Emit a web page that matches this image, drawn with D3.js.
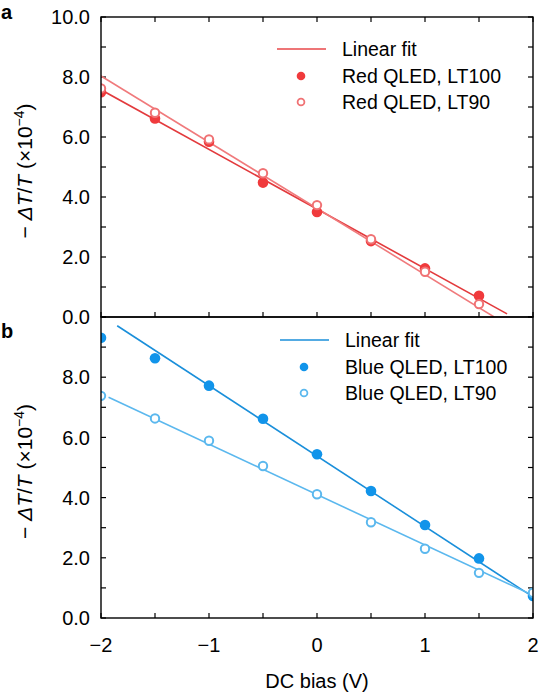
<!DOCTYPE html>
<html><head><meta charset="utf-8">
<script src="https://cdn.jsdelivr.net/npm/d3@7"></script>
<style>
html,body{margin:0;padding:0;background:#fff;}
svg{display:block;font-family:"Liberation Sans",Arial,Helvetica,sans-serif;}
</style></head>
<body>
<svg id="chart" width="540" height="694"></svg>
<script>
// ---- data ----
const biasRed   = [-2, -1.5, -1, -0.5, 0, 0.5, 1, 1.5];
const redLT100  = [7.49, 6.62, 5.84, 4.48, 3.50, 2.53, 1.62, 0.71];
const redLT90   = [7.62, 6.81, 5.92, 4.79, 3.73, 2.59, 1.51, 0.43];
const biasBlue  = [-2, -1.5, -1, -0.5, 0, 0.5, 1, 1.5, 2];
const blueLT100 = [9.31, 8.63, 7.72, 6.62, 5.44, 4.22, 3.09, 1.98, 0.73];
const blueLT90  = [7.38, 6.63, 5.89, 5.05, 4.11, 3.18, 2.30, 1.50, 0.84];
// linear fits: [slope, intercept, xStart, xEnd]
const redFit100  = [-1.987, 3.60, -2.1, 1.76];
const redFit90   = [-2.206, 3.62, -2.1, 1.64];
const blueFit100 = [-2.34, 5.38, -1.85, 2.0];
const blueFit90  = [-1.674, 4.10, -1.93, 2.0];
const xTickLabels = [-2, -1, 0, 1, 2];
const yTickLabels = [0, 2, 4, 6, 8, 10];
const legendRed  = ["Linear fit", "Red QLED, LT100", "Red QLED, LT90"];
const legendBlue = ["Linear fit", "Blue QLED, LT100", "Blue QLED, LT90"];

const svg = d3.select("#chart");
const L = 101, R = 533;
const x = d3.scaleLinear().domain([-2, 2]).range([L, R]);
const yA = d3.scaleLinear().domain([0, 10]).range([317, 17]);
const yB = d3.scaleLinear().domain([0, 10]).range([618, 317]);

const C = {
  red100: "#f03a3c", red90: "#f07274", redFit100: "#e33a3d", redFit90: "#f07a7c",
  blue100: "#1194ea", blue90: "#5bb8ee", blueFit100: "#1a8fda", blueFit90: "#5bb8ee"
};
const FS = 20, LFS = 19.5;
const fmt = d => (d < 0 ? "\u2212" + Math.abs(d) : String(d));

function panel(id, y, showTopTicks, showTopLabel, series, fits, legend, legendColors, legendY, legendX) {
  const g = svg.append("g");
  const [y0, y1] = y.range();
  const clipId = "clip" + id;
  svg.append("defs").append("clipPath").attr("id", clipId)
    .append("rect").attr("x", L).attr("y", y1).attr("width", R - L).attr("height", y0 - y1);

  const tk = 5;
  const xt = d3.range(-2, 2.01, 0.5);
  g.selectAll(".xb").data(xt).join("line")
    .attr("x1", d => x(d)).attr("x2", d => x(d)).attr("y1", y0).attr("y2", y0 - tk)
    .attr("stroke", "#000").attr("stroke-width", 1.2);
  if (showTopTicks) {
    g.selectAll(".xt").data(xt).join("line")
      .attr("x1", d => x(d)).attr("x2", d => x(d)).attr("y1", y1).attr("y2", y1 + tk)
      .attr("stroke", "#000").attr("stroke-width", 1.2);
  }
  const yt = d3.range(0, 10.01, 1);
  g.selectAll(".yl").data(yt).join("line")
    .attr("x1", L).attr("x2", L + tk).attr("y1", d => y(d)).attr("y2", d => y(d))
    .attr("stroke", "#000").attr("stroke-width", 1.2);
  g.selectAll(".yr").data(yt).join("line")
    .attr("x1", R).attr("x2", R - tk).attr("y1", d => y(d)).attr("y2", d => y(d))
    .attr("stroke", "#000").attr("stroke-width", 1.2);

  g.selectAll(".ylab").data(yTickLabels.filter(d => showTopLabel || d < 10)).join("text")
    .attr("x", L - 11).attr("y", d => y(d)).attr("dy", "0.36em")
    .attr("text-anchor", "end").attr("font-size", FS).text(d => d.toFixed(1));

  const pg = g.append("g").attr("clip-path", `url(#${clipId})`);
  fits.forEach(f => {
    const [m, b, xs, xe] = f.p;
    pg.append("line")
      .attr("x1", x(xs)).attr("y1", y(m * xs + b))
      .attr("x2", x(xe)).attr("y2", y(m * xe + b))
      .attr("stroke", f.c).attr("stroke-width", 1.6);
  });
  series.forEach(s => {
    pg.selectAll(null).data(s.xs.map((v, i) => [v, s.ys[i]])).join("circle")
      .attr("cx", d => x(d[0])).attr("cy", d => y(d[1]))
      .attr("r", s.filled ? 5.3 : 4.2)
      .attr("fill", s.filled ? s.c : "#fff")
      .attr("stroke", s.c).attr("stroke-width", s.filled ? 0 : 2);
  });

  g.append("rect").attr("x", L).attr("y", y1).attr("width", R - L).attr("height", y0 - y1)
    .attr("fill", "none").attr("stroke", "#000").attr("stroke-width", 1.4);

  const lg = g.append("g");
  lg.append("line").attr("x1", legendX).attr("x2", legendX + 49)
    .attr("y1", legendY).attr("y2", legendY).attr("stroke", legendColors[0]).attr("stroke-width", 1.6);
  lg.append("circle").attr("cx", legendX + 24).attr("cy", legendY + 27).attr("r", 4.3)
    .attr("fill", legendColors[1]);
  lg.append("circle").attr("cx", legendX + 24).attr("cy", legendY + 53).attr("r", 3.4)
    .attr("fill", "#fff").attr("stroke", legendColors[2]).attr("stroke-width", 1.8);
  legend.forEach((t, i) => {
    lg.append("text").attr("x", legendX + 65).attr("y", legendY + i * 26.5).attr("dy", "0.36em")
      .attr("font-size", LFS).text(t);
  });

  const cy = (y0 + y1) / 2 + 4;
  const t = svg.append("text").attr("transform", `translate(32,${cy}) rotate(-90)`)
    .attr("text-anchor", "middle").attr("font-size", 21);
  t.append("tspan").text("\u2212 ");
  t.append("tspan").attr("font-style", "italic").text("\u0394T");
  t.append("tspan").text("/");
  t.append("tspan").attr("font-style", "italic").text("T");
  t.append("tspan").text(" (\u00d710");
  t.append("tspan").attr("font-size", 14).attr("dy", -8).text("\u22124");
  t.append("tspan").attr("dy", 8).text(")");
}

panel("A", yA, true, true,
  [{xs: biasRed, ys: redLT100, c: C.red100, filled: true},
   {xs: biasRed, ys: redLT90, c: C.red90, filled: false}],
  [{p: redFit100, c: C.redFit100}, {p: redFit90, c: C.redFit90}],
  legendRed, ["#e8474a", C.red100, C.red90], 49, 277);

panel("B", yB, false, false,
  [{xs: biasBlue, ys: blueLT100, c: C.blue100, filled: true},
   {xs: biasBlue, ys: blueLT90, c: C.blue90, filled: false}],
  [{p: blueFit100, c: C.blueFit100}, {p: blueFit90, c: C.blueFit90}],
  legendBlue, [C.blueFit100, C.blue100, C.blue90], 340, 280);

svg.selectAll(".xl").data(xTickLabels).join("text")
  .attr("x", d => x(d)).attr("y", 652).attr("text-anchor", "middle")
  .attr("font-size", FS).text(fmt);
svg.append("text").attr("x", x(0)).attr("y", 688).attr("text-anchor", "middle")
  .attr("font-size", 20).text("DC bias (V)");

svg.append("text").attr("x", 1).attr("y", 19).attr("font-size", 20).attr("font-weight", "bold").text("a");
svg.append("text").attr("x", 1).attr("y", 338).attr("font-size", 20).attr("font-weight", "bold").text("b");
</script>
</body></html>
